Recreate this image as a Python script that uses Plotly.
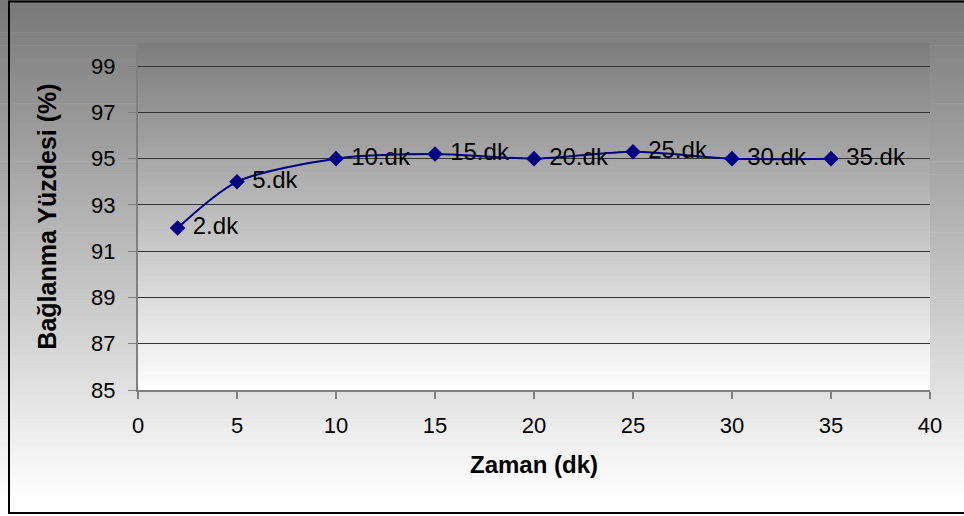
import plotly.graph_objects as go

zaman = [2, 5, 10, 15, 20, 25, 30, 35]
yuzde = [92, 94, 95, 95.2, 95, 95.3, 95, 95]
etiket = ["2.dk", "5.dk", "10.dk", "15.dk", "20.dk", "25.dk", "30.dk", "35.dk"]
y_ticks = [85, 87, 89, 91, 93, 95, 97, 99]
x_ticks = [0, 5, 10, 15, 20, 25, 30, 35, 40]

W, H = 964, 516
L, R, T, B = 138, 34, 43, 126
PW, PH = W - L - R, H - T - B


def px_to_paper_x(px):
    return (px - L) / PW


def px_to_paper_y(py):
    return (H - B - py) / PH


def gray(v):
    v = int(round(max(0, min(255, v))))
    return f"rgb({v},{v},{v})"


shapes = []
# outer (paper) gradient
N = 80
for i in range(N):
    y0p = H * i / N
    y1p = H * (i + 1) / N + 0.6
    c = 120 + (255 - 120) * ((y0p + y1p) / 2) / (H * 0.97)
    shapes.append(dict(type="rect", xref="paper", yref="paper",
                       x0=px_to_paper_x(0), x1=px_to_paper_x(W),
                       y0=px_to_paper_y(y1p), y1=px_to_paper_y(y0p),
                       fillcolor=gray(c), line_width=0, layer="below"))
# plot area gradient
M = 70
for i in range(M):
    y0p = T + PH * i / M
    y1p = T + PH * (i + 1) / M + 0.6
    c = 124 + (254 - 124) * (((y0p + y1p) / 2) - T) / PH
    shapes.append(dict(type="rect", xref="paper", yref="paper",
                       x0=0, x1=1,
                       y0=px_to_paper_y(min(y1p, T + PH)), y1=px_to_paper_y(y0p),
                       fillcolor=gray(c), line_width=0, layer="below"))
# outer frame
shapes.append(dict(type="rect", xref="paper", yref="paper",
                   x0=px_to_paper_x(9), x1=px_to_paper_x(975),
                   y0=px_to_paper_y(513), y1=px_to_paper_y(1.5),
                   line=dict(color="black", width=2), fillcolor="rgba(0,0,0,0)",
                   layer="above"))

fig = go.Figure()
fig.add_trace(go.Scatter(
    x=zaman, y=yuzde, text=etiket,
    mode="lines+markers+text",
    line=dict(color="#000080", width=2, shape="spline", smoothing=0.8),
    marker=dict(symbol="diamond", size=12, color="#000080"),
    textposition="middle right",
    texttemplate=" %{text}",
    textfont=dict(family="Liberation Sans, Arial", size=24, color="black"),
    cliponaxis=False,
    showlegend=False,
))

fig.update_layout(
    width=W, height=H,
    margin=dict(l=L, r=R, t=T, b=B, pad=0),
    paper_bgcolor="white",
    plot_bgcolor="rgba(0,0,0,0)",
    font=dict(family="Liberation Sans, Arial", size=22, color="black"),
    shapes=shapes,
    xaxis=dict(
        range=[0, 40], tickvals=x_ticks, ticktext=[str(v) for v in x_ticks],
        showgrid=False, zeroline=False,
        showline=True, linecolor="#808080", linewidth=2,
        ticks="outside", ticklen=7, tickcolor="#808080", tickwidth=2,
        tickfont=dict(size=22),
        ticklabelstandoff=8,
        title=dict(text="<b>Zaman (dk)</b>", font=dict(size=24), standoff=19),
    ),
    yaxis=dict(
        range=[85, 100], tickvals=y_ticks, ticktext=[str(v) for v in y_ticks],
        showgrid=True, gridcolor="#333333", gridwidth=1, zeroline=False,
        showline=True, linecolor="#808080", linewidth=2,
        ticks="outside", ticklen=8, tickcolor="#808080", tickwidth=1,
        tickfont=dict(size=22),
        ticklabelstandoff=8,
        title=dict(text="<b>Bağlanma Yüzdesi (%)</b>", font=dict(size=25), standoff=27),
    ),
)

fig.write_html("out.html")
